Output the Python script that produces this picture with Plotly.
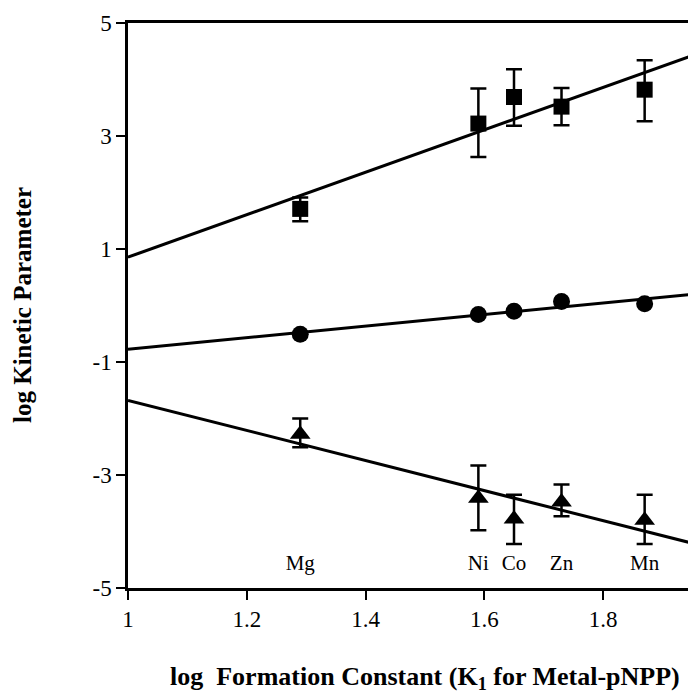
import plotly.graph_objects as go

metals = ["Mg", "Ni", "Co", "Zn", "Mn"]
log_k1 = [1.29, 1.59, 1.65, 1.73, 1.87]

# squares
sq_y = [1.71, 3.22, 3.69, 3.52, 3.82]
sq_hi = [1.91, 3.84, 4.18, 3.85, 4.34]
sq_lo = [1.49, 2.63, 3.18, 3.19, 3.26]
# circles
ci_y = [-0.51, -0.16, -0.10, 0.07, 0.03]
# triangles
tr_y = [-2.28, -3.41, -3.78, -3.48, -3.80]
tr_hi = [-2.00, -2.83, -3.35, -3.17, -3.35]
tr_lo = [-2.51, -3.98, -4.22, -3.73, -4.22]

# fitted lines (endpoints)
fit_x = [1.0, 2.0]
fit_sq = [0.855, 4.61]
fit_ci = [-0.773, 0.249]
fit_tr = [-1.68, -4.34]

label_y = [-4.58] * 5

x_ticks = [1, 1.2, 1.4, 1.6, 1.8]
x_ticktext = ["1", "1.2", "1.4", "1.6", "1.8"]
y_ticks = [5, 3, 1, -1, -3, -5]
y_ticktext = ["5", "3", "1", "-1", "-3", "-5"]

FONT = "Liberation Serif"
fig = go.Figure()

for fy in (fit_sq, fit_ci, fit_tr):
    fig.add_trace(go.Scatter(x=fit_x, y=fy, mode="lines",
                             line=dict(color="black", width=3),
                             showlegend=False, hoverinfo="skip"))

def err(v, hi, lo):
    return dict(type="data", symmetric=False,
                array=[h - a for h, a in zip(hi, v)],
                arrayminus=[a - l for a, l in zip(v, lo)],
                color="black", thickness=2.5, width=8)

fig.add_trace(go.Scatter(x=log_k1, y=sq_y, mode="markers",
                         marker=dict(symbol="square", size=16, color="black"),
                         error_y=err(sq_y, sq_hi, sq_lo), showlegend=False))
fig.add_trace(go.Scatter(x=log_k1, y=ci_y, mode="markers",
                         marker=dict(symbol="circle", size=17, color="black"),
                         showlegend=False))
fig.add_trace(go.Scatter(x=log_k1, y=tr_y, mode="markers",
                         marker=dict(symbol="triangle-up", size=18, color="black"),
                         error_y=err(tr_y, tr_hi, tr_lo), showlegend=False))
fig.add_trace(go.Scatter(x=log_k1, y=label_y, mode="text", text=metals,
                         textfont=dict(family=FONT, size=21, color="black"),
                         showlegend=False, hoverinfo="skip"))

W, H = 560, 694 - 23 - 106
fig.update_layout(
    width=688, height=694,
    margin=dict(l=128, r=0, t=23, b=106),
    paper_bgcolor="white", plot_bgcolor="white",
    font=dict(family=FONT, size=22, color="black"),
    xaxis=dict(range=[1, 1.943], tickvals=x_ticks, ticktext=x_ticktext,
               showgrid=False, zeroline=False, showline=True, mirror=True,
               linecolor="black", linewidth=2.5, ticks="outside",
               ticklen=9, tickwidth=1.5, tickcolor="black",
               tickfont=dict(family=FONT, size=23)),
    yaxis=dict(range=[-5, 5], tickvals=y_ticks, ticktext=y_ticktext,
               showgrid=False, zeroline=False, showline=True,
               linecolor="black", linewidth=2.5, ticks="outside",
               ticklen=9, tickwidth=1.5, tickcolor="black",
               tickfont=dict(family=FONT, size=23)),
    annotations=[
        dict(text="<b>log  Formation Constant (K<sub>1</sub> for Metal-pNPP)</b>",
             x=(425 - 128) / W, y=-(678 - 588) / H, xref="paper", yref="paper",
             xanchor="center", yanchor="middle",
             showarrow=False, font=dict(family=FONT, size=26)),
        dict(text="<b>log Kinetic Parameter</b>", textangle=-90,
             x=-(128 - 22) / W, y=(588 - 305) / H, xref="paper", yref="paper",
             xanchor="center", yanchor="middle", showarrow=False,
             font=dict(family=FONT, size=25)),
    ],
)

fig.write_html("out.html", config={"displayModeBar": False},
               post_script="document.body.style.margin='0';document.body.style.overflow='hidden';")
